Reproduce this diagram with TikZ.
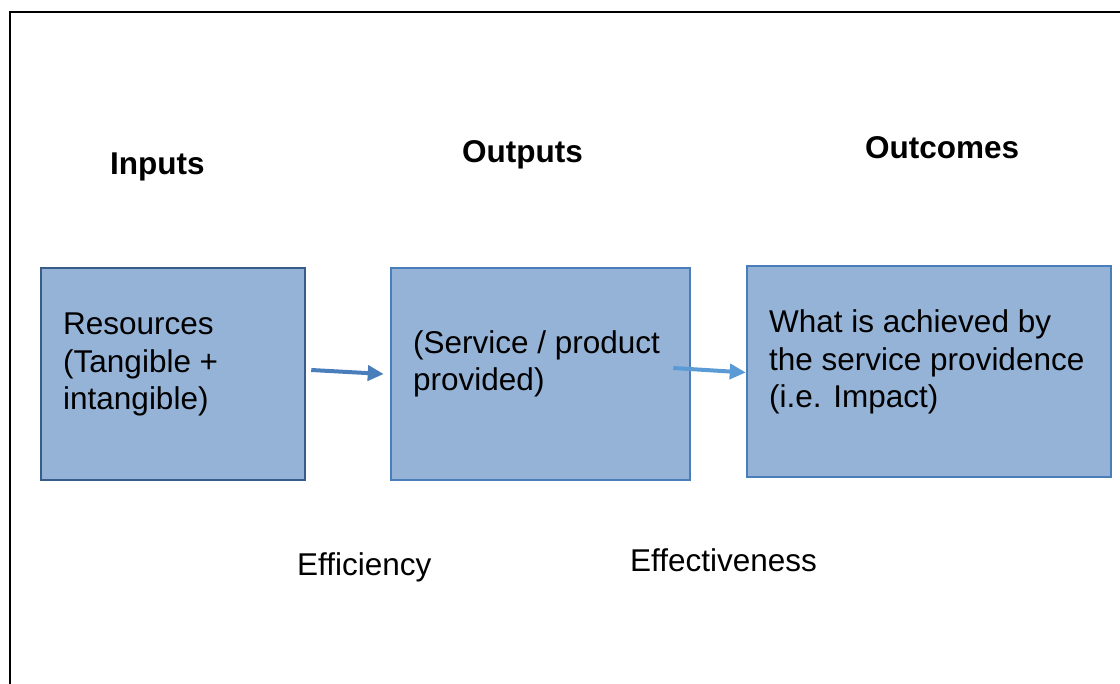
\documentclass[tikz,border=0pt]{standalone}
\usepackage{fontspec}
\setmainfont{Liberation Sans}
\usetikzlibrary{arrows.meta}
\definecolor{boxfill}{HTML}{95B3D7}
\definecolor{boxdark}{HTML}{385D8A}
\definecolor{boxline}{HTML}{4A7EBB}
\definecolor{arrowlight}{HTML}{5B9BD5}
\tikzset{
	box/.style={draw=boxline, fill=boxfill, line width=2.5pt, inner sep=0pt},
	boxtext/.style={anchor=base west, inner sep=0pt, align=left, font=\fontsize{31.5}{37.5}\selectfont},
	heading/.style={anchor=base west, inner sep=0pt, font=\fontsize{31.5}{37.5}\selectfont\bfseries},
	measure/.style={anchor=base west, inner sep=0pt, font=\fontsize{31.5}{37.5}\selectfont},
	flow/.style={line width=4pt, -{Triangle[length=16pt,width=15pt]}}
}
\begin{document}
\begin{tikzpicture}[x=1pt,y=-1pt]
		\useasboundingbox (0,0) rectangle (1120,684);
		%frame
		\draw[line width=2pt] (10,700) -- (10,12) -- (1140,12);
		%inputs
			\node[heading] (inhead) at (110,175) {Inputs};
			\node[box, draw=boxdark, minimum width=264, minimum height=212] (res) at (173,374) {};
			\node[boxtext] (restext) at (63,410) {Resources\\(Tangible +\\intangible)};
		%outputs
			\node[heading] (outhead) at (462,163) {Outputs};
			\node[box, minimum width=299, minimum height=212] (prod) at (540.5,374) {};
			\node[boxtext] (prodtext) at (413,391) {(Service / product\\provided)};
		%outcomes
			\node[heading] (outchead) at (865,159) {Outcomes};
			\node[box, minimum width=364, minimum height=211] (impact) at (929,371.5) {};
			\node[boxtext] (impacttext) at (769,408) {What is achieved by\\the service providence\\(i.e. Impact)};
		% arrows
			\draw[flow, boxline] ([shift={(5,-4)}]res.east) -- ([shift={(-6,0)}]prod.west);
			\draw[flow, arrowlight] ([shift={(-18,-6)}]prod.east) -- ([shift={(0,1)}]impact.west);
		% labels
		\node[measure] (effic) at (297,576) {Efficiency};
		\node[measure] (effect) at (630,572) {Effectiveness};
	\end{tikzpicture}
\end{document}
